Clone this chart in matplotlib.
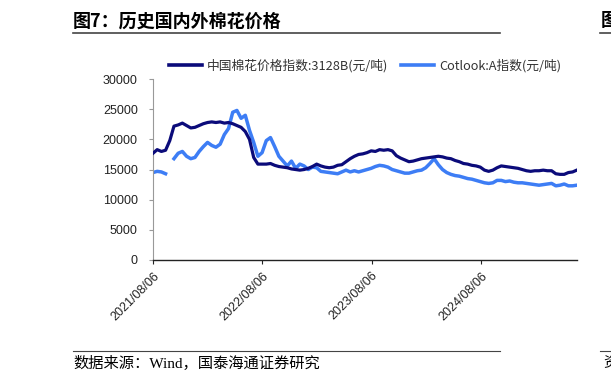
import numpy as np
import pandas as pd
import matplotlib
matplotlib.use("Agg")
import matplotlib.pyplot as plt
from matplotlib.lines import Line2D

plt.rcParams['font.family'] = ['Liberation Sans', 'Noto Sans CJK SC', 'DejaVu Sans']

# data: fortnightly readings from 2021/08/06 (values in thousand yuan/ton)
dates = pd.date_range("2021-08-06", periods=102, freq="14D")
china_k = [17.7, 18.3, 18.0, 18.2, 19.8, 22.2, 22.4, 22.7, 22.3, 21.9,
           22.0, 22.3, 22.6, 22.8, 22.9, 22.8, 22.9, 22.7, 22.8, 22.6,
           22.3, 22.0, 21.3, 20.0, 17.0, 15.9, 15.9, 15.9, 16.0, 15.7,
           15.5, 15.4, 15.3, 15.1, 15.0, 14.9, 15.0, 15.2, 15.5, 15.9,
           15.6, 15.4, 15.3, 15.4, 15.7, 15.8, 16.3, 16.8, 17.2, 17.5,
           17.6, 17.8, 18.1, 18.0, 18.3, 18.2, 18.3, 18.1, 17.3, 16.9,
           16.6, 16.3, 16.4, 16.6, 16.8, 16.9, 17.0, 17.1, 17.2, 17.1,
           16.9, 16.8, 16.5, 16.3, 16.0, 15.9, 15.7, 15.6, 15.4, 14.9,
           14.7, 14.9, 15.3, 15.6, 15.5, 15.4, 15.3, 15.2, 15.0, 14.8,
           14.7, 14.8, 14.8, 14.9, 14.8, 14.8, 14.3, 14.2, 14.2, 14.5,
           14.6, 14.9]
cotlook_k = [14.5, 14.7, 14.6, 14.3, None, 16.8, 17.7, 18.0, 17.2, 16.8,
             17.0, 18.0, 18.8, 19.5, 19.0, 18.7, 19.2, 20.8, 21.8, 24.5,
             24.8, 23.5, 24.0, 21.5, 19.5, 17.2, 17.8, 19.8, 20.3, 18.8,
             17.2, 16.4, 15.6, 16.4, 15.2, 15.9, 15.6, 15.0, 15.4, 15.3,
             14.7, 14.6, 14.5, 14.4, 14.3, 14.6, 14.9, 14.6, 14.8, 14.6,
             14.8, 15.0, 15.2, 15.5, 15.7, 15.6, 15.4, 15.0, 14.8, 14.6,
             14.4, 14.4, 14.6, 14.8, 14.9, 15.3, 16.0, 16.8, 15.8, 15.0,
             14.5, 14.2, 14.0, 13.9, 13.7, 13.5, 13.4, 13.2, 13.0, 12.8,
             12.7, 12.8, 13.2, 13.2, 13.0, 13.1, 12.9, 12.8, 12.8, 12.7,
             12.6, 12.5, 12.4, 12.5, 12.6, 12.7, 12.3, 12.4, 12.6, 12.3,
             12.3, 12.4]
tick_dates = ["2021-08-06", "2022-08-06", "2023-08-06", "2024-08-06"]
tick_labels = ["2021/08/06", "2022/08/06", "2023/08/06", "2024/08/06"]

china = np.array(china_k, dtype=float) * 1000
cotlook = np.array([np.nan if v is None else v for v in cotlook_k]) * 1000

navy = "#0B0B7A"
blue = "#3D7DF5"

fig = plt.figure(figsize=(6.11, 3.84), dpi=100)
ax = fig.add_axes([0.2504, 0.323, 0.6936, 0.471])

ax.plot(dates, cotlook, color=blue, lw=2.5, zorder=2)
ax.plot(dates, china, color=navy, lw=2.3, zorder=3)

ax.set_ylim(0, 30000)
ax.set_yticks(range(0, 30001, 5000))
ax.set_xlim(dates[0], dates[-1])
ax.set_xticks(pd.to_datetime(tick_dates))
ax.set_xticklabels(tick_labels, rotation=45, ha="right", rotation_mode="anchor")
ax.tick_params(axis="both", labelsize=9, colors="#222222", length=3)
ax.tick_params(axis="y", color="#999999", pad=8)
ax.tick_params(axis="x", pad=4)

for s in ["top", "right"]:
    ax.spines[s].set_visible(False)
ax.spines["left"].set_color("#999999")
ax.spines["bottom"].set_color("#222222")
ax.spines["bottom"].set_linewidth(1.0)

handles = [Line2D([], [], color=navy, lw=2.6), Line2D([], [], color=blue, lw=2.6)]
leg = ax.legend(handles, ["中国棉花价格指数:3128B(元/吨)", "Cotlook:A指数(元/吨)"],
                ncol=2, loc="lower center", bbox_to_anchor=(0.5, 1.0),
                frameon=False, handlelength=2.6, columnspacing=1.0,
                handletextpad=0.4, borderaxespad=0.1,
                prop={"family": ["Noto Sans CJK SC"], "size": 9.2})
for t in leg.get_texts():
    t.set_color("#333333")

# title, rules and source note
fig.text(73 / 611, 1 - 21 / 384, "图7：历史国内外棉花价格", fontsize=13,
         fontweight="bold", family=["Noto Sans CJK SC"], va="center", ha="left")
fig.add_artist(Line2D([73 / 611, 500 / 611], [1 - 33 / 384] * 2, color="#444444", lw=1.2))
fig.add_artist(Line2D([600 / 611, 1.0], [1 - 33 / 384] * 2, color="#444444", lw=1.2))
fig.text(601 / 611, 1 - 21 / 384, "图", fontsize=13, fontweight="bold",
         family=["Noto Sans CJK SC"], va="center", ha="left")
fig.add_artist(Line2D([73 / 611, 500 / 611], [1 - 351 / 384] * 2, color="#444444", lw=0.8))
fig.add_artist(Line2D([600 / 611, 1.0], [1 - 351 / 384] * 2, color="#444444", lw=0.8))
fig.text(73 / 611, 1 - 363 / 384, "数据来源：Wind，国泰海通证券研究", fontsize=11,
         family=["Liberation Serif", "Noto Sans CJK SC"], va="center", ha="left")
fig.text(603 / 611, 1 - 363 / 384, "资", fontsize=11,
         family=["Noto Sans CJK SC"], va="center", ha="left")

fig.savefig("out.png", dpi=100)
